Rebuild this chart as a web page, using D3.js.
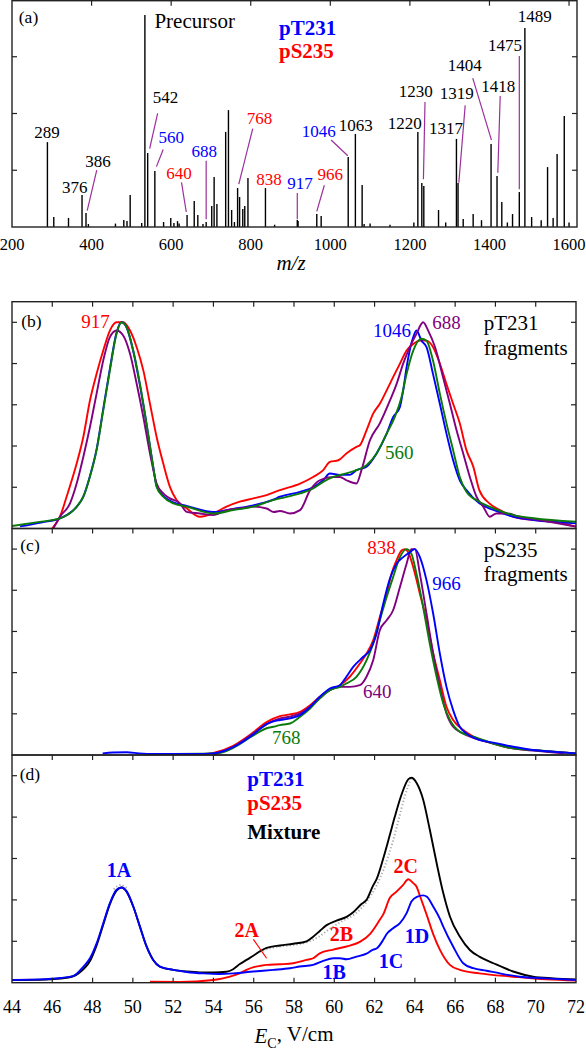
<!DOCTYPE html>
<html><head><meta charset="utf-8">
<script src="https://cdn.jsdelivr.net/npm/d3@7"></script>
<style>body{margin:0;background:#fff}svg{display:block}</style>
</head><body><svg id="c" width="586" height="1050"></svg>
<script>
// ---------- DATA ----------
// Panel (a): MS/MS spectrum
const specMz = [289,305,342,376,386,392,460,481,489,497,526,534,541,559,581,599,607,616,620,640,658,667,680,688,702,708,715,737,744,752,759,767,772,780,785,793,837,860,917,919,966,977,1045,1063,1080,1085,1100,1150,1210,1220,1230,1235,1272,1290,1317,1321,1334,1359,1380,1404,1419,1431,1445,1458,1475,1489,1506,1530,1546,1560,1570,1588,1600];
const specInt = [37.4,4.4,4.0,14.1,6.2,1.3,1.5,3.1,2.6,14.1,1.8,93.4,32.6,24.7,2.2,4.0,1.8,2.6,1.5,5.3,11.5,5.3,1.3,2.2,9.3,22.0,10.1,41.9,51.5,7.5,2.2,17.2,13.2,7.9,9.3,21.6,17.2,1.0,3.1,2.6,5.7,4.8,30.8,41.0,18.5,1.3,1.5,1.0,2.0,41.9,19.4,18.1,7.5,2.0,38.8,19.4,3.5,5.7,3.0,36.6,22.5,11.0,2.0,5.7,15.4,87.7,4.4,3.0,26.4,4.0,32.2,48.9,2.0];
const mzTicks = [200,400,600,800,1000,1200,1400,1600];
// peak labels: text, colour group, label anchor (mz, intensity), leader (mz1,int1,mz2,int2) or null
const peakLabels = [
  ["289","k",288,41.9,null],
  ["376","k",358,17.6,null],
  ["386","k",416,29.1,[413,25.1,389,7.2]],
  ["542","k",586,57.3,[566,50.1,546,34.5]],
  ["560","b",600,39.6,[580,34.1,563,26.6]],
  ["640","r",620,23.8,[626,19.7,638,6.6]],
  ["688","b",683,33.6,[688,29.2,688,3.4]],
  ["768","r",822,48.1,[805,43.3,770,18.9]],
  ["838","r",846,21.1,null],
  ["917","b",924,19.5,[917,15.0,917,3.4]],
  ["966","r",1000,23.2,[985,18.4,966,6.9]],
  ["1046","b",971,42.2,[1002,38.3,1044,31.4]],
  ["1063","k",1064,44.9,null],
  ["1220","k",1187,45.7,null],
  ["1230","k",1215,60.0,[1238,55.1,1234,21.0]],
  ["1317","k",1291,43.5,null],
  ["1319","k",1318,58.9,[1339,53.6,1323,19.5]],
  ["1404","k",1338,71.4,[1358,65.6,1405,38.3]],
  ["1418","k",1422,62.2,[1427,57.7,1421,23.9]],
  ["1475","k",1439,80.2,[1475,75.3,1475,16.6]],
  ["1489","k",1514,93.1,null]
];

// Panel (b): pT231 fragments [E_C, normalized intensity]
const bRed917 = [[46.0,0.0],[46.38,0.057],[46.71,0.154],[47.21,0.315],[47.54,0.444],[47.87,0.621],[48.2,0.75],[48.53,0.863],[48.86,0.96],[49.19,1.0],[49.52,1.0],[49.86,0.96],[50.19,0.879],[50.52,0.767],[50.85,0.605],[51.18,0.444],[51.51,0.315],[51.84,0.202],[52.17,0.138],[52.67,0.098],[53.33,0.057],[53.99,0.073],[54.65,0.106],[55.31,0.13],[55.98,0.146],[56.64,0.162],[57.3,0.186],[58.3,0.218],[58.95,0.25],[59.45,0.283],[59.78,0.323],[60.2,0.331],[60.6,0.364],[61.1,0.396],[61.27,0.404],[61.6,0.476],[61.93,0.557],[62.26,0.605],[62.6,0.67],[62.92,0.734],[63.26,0.8],[63.59,0.863],[63.92,0.895],[64.25,0.911],[64.58,0.911],[64.9,0.88],[65.24,0.8],[65.57,0.7],[65.9,0.605],[66.23,0.51],[66.56,0.38],[66.9,0.3],[67.2,0.186],[67.7,0.122],[68.2,0.09],[68.9,0.057],[69.9,0.041],[70.9,0.033],[72.0,0.009]];
const bBlue1046 = [[44.4,0.01],[45.5,0.03],[46.38,0.049],[47.0,0.085],[47.21,0.105],[47.54,0.155],[47.87,0.255],[48.2,0.385],[48.53,0.58],[48.86,0.775],[49.19,0.95],[49.44,1.0],[49.69,0.975],[50.02,0.86],[50.35,0.695],[50.68,0.505],[51.01,0.3],[51.18,0.205],[51.51,0.158],[52.01,0.127],[52.67,0.11],[53.99,0.08],[54.98,0.095],[55.98,0.112],[56.97,0.14],[57.3,0.154],[58.3,0.178],[58.95,0.2],[59.45,0.234],[59.78,0.267],[60.28,0.26],[60.77,0.26],[61.1,0.283],[61.6,0.3],[62.1,0.364],[62.6,0.46],[62.92,0.54],[63.26,0.59],[63.42,0.67],[63.59,0.783],[63.92,0.928],[64.08,0.96],[64.33,0.911],[64.58,0.88],[64.9,0.75],[65.24,0.605],[65.57,0.46],[65.9,0.331],[66.23,0.234],[66.56,0.186],[67.2,0.122],[67.9,0.09],[68.9,0.057],[69.9,0.041],[72.0,0.025]];
const bPurple688 = [[46.05,0.0],[46.38,0.057],[46.88,0.122],[47.21,0.218],[47.54,0.347],[47.87,0.492],[48.2,0.654],[48.53,0.815],[48.86,0.928],[49.19,0.96],[49.52,0.936],[49.86,0.847],[50.19,0.702],[50.52,0.541],[50.85,0.364],[51.18,0.218],[51.51,0.17],[51.84,0.146],[52.34,0.122],[52.67,0.081],[53.33,0.073],[53.99,0.065],[54.65,0.089],[55.31,0.097],[55.98,0.106],[56.64,0.097],[57.0,0.08],[57.3,0.085],[57.8,0.073],[58.3,0.089],[58.8,0.186],[59.28,0.234],[59.95,0.25],[60.28,0.25],[60.6,0.234],[61.1,0.218],[61.35,0.283],[61.77,0.428],[62.26,0.51],[62.76,0.62],[63.09,0.7],[63.42,0.8],[63.75,0.88],[64.08,0.944],[64.41,1.0],[64.66,0.96],[65.0,0.88],[65.4,0.734],[65.74,0.605],[66.07,0.476],[66.4,0.364],[66.73,0.25],[67.06,0.154],[67.4,0.105],[67.72,0.057],[68.05,0.073],[68.55,0.073],[69.2,0.057],[70.2,0.041],[72.0,0.009]];
const bGreen560 = [[44.0,0.012],[45.2,0.03],[46.38,0.049],[47.21,0.106],[47.54,0.154],[47.87,0.251],[48.2,0.38],[48.53,0.573],[48.86,0.767],[49.19,0.944],[49.44,1.0],[49.69,0.976],[50.02,0.863],[50.35,0.702],[50.68,0.509],[51.01,0.299],[51.18,0.202],[51.51,0.154],[52.01,0.122],[52.67,0.106],[53.99,0.073],[54.98,0.089],[55.98,0.106],[56.97,0.138],[57.3,0.146],[58.3,0.17],[58.95,0.194],[59.45,0.226],[59.95,0.25],[60.6,0.267],[61.1,0.283],[61.6,0.307],[62.1,0.364],[62.6,0.46],[63.0,0.54],[63.34,0.638],[63.59,0.75],[63.92,0.863],[64.33,0.92],[64.58,0.911],[64.9,0.815],[65.24,0.654],[65.57,0.51],[65.9,0.38],[66.23,0.25],[66.56,0.178],[67.2,0.13],[67.9,0.098],[68.9,0.065],[69.9,0.05],[72.0,0.033]];

// Panel (c): pS235 fragments
const cRed838 = [[53.5,0.003],[54.0,0.01],[54.98,0.045],[55.98,0.11],[56.64,0.16],[57.3,0.189],[57.8,0.197],[58.3,0.21],[58.8,0.242],[59.28,0.283],[59.78,0.315],[60.28,0.339],[60.77,0.38],[61.27,0.444],[61.6,0.493],[61.93,0.557],[62.26,0.67],[62.6,0.783],[62.84,0.88],[63.09,0.945],[63.34,0.993],[63.5,1.0],[63.67,0.985],[63.92,0.912],[64.25,0.783],[64.58,0.654],[64.91,0.493],[65.24,0.363],[65.57,0.234],[65.9,0.17],[66.4,0.121],[66.9,0.089],[67.9,0.056],[68.88,0.032],[69.87,0.024],[70.86,0.016],[72.0,0.008]];
const cBlue966 = [[48.5,0.008],[49.0,0.012],[49.7,0.013],[50.3,0.008],[51.0,0.005],[52.0,0.005],[53.0,0.005],[54.0,0.008],[54.98,0.038],[55.98,0.1],[56.64,0.15],[57.3,0.17],[57.8,0.178],[58.3,0.194],[58.8,0.234],[59.28,0.283],[59.78,0.323],[60.28,0.339],[60.6,0.38],[60.94,0.428],[61.44,0.477],[61.77,0.509],[62.1,0.59],[62.43,0.735],[62.76,0.856],[63.09,0.929],[63.42,0.961],[63.75,0.985],[64.0,1.0],[64.25,0.961],[64.58,0.848],[64.91,0.686],[65.24,0.493],[65.57,0.331],[65.9,0.218],[66.23,0.137],[66.56,0.105],[67.2,0.073],[67.9,0.06],[68.88,0.04],[69.87,0.024],[70.86,0.016],[72.0,0.008]];
const cPurple640 = [[54.0,0.0],[54.98,0.04],[55.98,0.105],[56.64,0.15],[57.3,0.178],[57.8,0.186],[58.3,0.202],[58.8,0.234],[59.28,0.275],[59.78,0.315],[60.28,0.331],[60.77,0.331],[61.27,0.339],[61.6,0.38],[61.93,0.46],[62.26,0.606],[62.6,0.654],[62.92,0.703],[63.26,0.816],[63.59,0.929],[63.83,1.0],[64.0,1.0],[64.25,0.88],[64.58,0.686],[64.91,0.493],[65.24,0.331],[65.57,0.202],[65.9,0.137],[66.4,0.105],[67.2,0.073],[67.9,0.056],[68.88,0.032],[70.5,0.016],[71.4,0.008]];
const cGreen768 = [[50.5,0.005],[52.0,0.005],[53.5,0.006],[54.3,0.01],[54.98,0.035],[55.98,0.095],[56.64,0.13],[56.97,0.137],[57.3,0.145],[57.8,0.153],[58.3,0.186],[58.8,0.226],[59.28,0.275],[59.78,0.315],[60.28,0.331],[60.6,0.347],[61.1,0.38],[61.6,0.46],[61.93,0.541],[62.26,0.654],[62.6,0.767],[62.92,0.864],[63.26,0.961],[63.59,1.0],[63.83,0.977],[64.08,0.88],[64.41,0.719],[64.74,0.541],[65.08,0.38],[65.41,0.25],[65.74,0.17],[66.23,0.113],[66.9,0.089],[67.9,0.056],[68.88,0.032],[69.87,0.024],[72.0,0.008]];

// Panel (d): pT231, pS235, mixture, fit
const dBluePT231 = [[44.0,0.013],[45.4,0.016],[46.4,0.023],[47.04,0.032],[47.54,0.077],[47.87,0.118],[48.2,0.19],[48.53,0.287],[48.86,0.384],[49.19,0.449],[49.44,0.46],[49.69,0.441],[50.02,0.368],[50.35,0.271],[50.68,0.175],[51.01,0.11],[51.34,0.078],[52.01,0.062],[52.67,0.052],[53.5,0.045],[54.3,0.042],[55.0,0.045],[55.98,0.054],[56.97,0.062],[57.8,0.07],[58.29,0.078],[58.95,0.086],[59.45,0.105],[59.95,0.118],[60.28,0.118],[60.61,0.113],[61.1,0.126],[61.6,0.14],[61.93,0.16],[62.1,0.165],[62.43,0.207],[62.6,0.235],[62.92,0.263],[63.26,0.288],[63.59,0.336],[63.83,0.392],[64.1,0.415],[64.41,0.422],[64.6,0.415],[64.91,0.368],[65.24,0.31],[65.41,0.271],[65.9,0.175],[66.4,0.094],[66.9,0.07],[67.56,0.058],[68.22,0.045],[69.2,0.029],[70.5,0.021],[72.0,0.013]];
const dRedPS235 = [[50.85,0.005],[52.34,0.004],[53.99,0.013],[54.82,0.029],[55.3,0.045],[55.64,0.062],[56.0,0.075],[56.31,0.081],[56.64,0.086],[57.3,0.089],[57.96,0.094],[58.62,0.11],[58.95,0.118],[59.28,0.142],[59.95,0.16],[60.61,0.175],[61.27,0.197],[61.77,0.235],[62.26,0.304],[62.43,0.33],[62.76,0.41],[63.09,0.44],[63.42,0.473],[63.67,0.5],[63.92,0.481],[64.08,0.465],[64.25,0.42],[64.58,0.33],[64.91,0.235],[65.24,0.16],[65.74,0.086],[66.23,0.062],[67.2,0.045],[68.88,0.029],[70.5,0.016],[72.0,0.01]];
const dBlackMix = [[44.0,0.013],[45.4,0.014],[46.4,0.02],[47.0,0.03],[47.3,0.045],[47.6,0.07],[47.9,0.11],[48.2,0.18],[48.53,0.28],[48.86,0.38],[49.19,0.445],[49.44,0.46],[49.69,0.44],[50.02,0.368],[50.35,0.271],[50.68,0.175],[51.01,0.11],[51.34,0.078],[52.01,0.062],[52.67,0.054],[53.33,0.05],[53.99,0.05],[54.65,0.053],[54.98,0.065],[55.31,0.09],[55.64,0.11],[55.98,0.13],[56.31,0.152],[56.64,0.168],[57.3,0.18],[57.96,0.188],[58.62,0.2],[58.95,0.222],[59.28,0.25],[59.62,0.278],[60.11,0.3],[60.61,0.318],[60.94,0.34],[61.35,0.38],[61.6,0.4],[61.93,0.47],[62.1,0.5],[62.43,0.6],[62.76,0.715],[63.0,0.8],[63.34,0.909],[63.67,0.982],[63.83,0.99],[64.08,0.966],[64.41,0.885],[64.74,0.74],[65.08,0.578],[65.41,0.433],[65.74,0.32],[66.23,0.223],[66.73,0.158],[67.2,0.126],[67.9,0.094],[68.88,0.054],[69.87,0.029],[70.86,0.021],[72.0,0.016]];
const dFitA = [[49.05,0.452],[49.4,0.472],[49.75,0.452]];
const dFitMain = [[56.3,0.15],[56.8,0.166],[57.3,0.175],[58.0,0.183],[58.6,0.194],[59.2,0.22],[59.8,0.262],[60.4,0.298],[61.0,0.33],[61.6,0.39],[62.1,0.47],[62.5,0.56],[62.9,0.68],[63.2,0.79],[63.5,0.9],[63.8,0.985]];
const ecTicks = [44,46,48,50,52,54,56,58,60,62,64,66,68,70,72];

// ---------- DRAWING ----------
const svg = d3.select("#c");
const FONT = "Liberation Serif";
const COL = {k:"#000", b:"#0000ff", r:"#ff0000", p:"#800080", g:"#0a7a0a"};
const LEAD = "#9b2f9b";
const frameCol = "#222";

function frame(x0,y0,x1,y1){
  svg.append("rect").attr("x",x0).attr("y",y0).attr("width",x1-x0).attr("height",y1-y0)
    .attr("fill","none").attr("stroke",frameCol).attr("stroke-width",1.4);
}
function tickMarks(xs, x, ys, y, top, bottom, left, right, len, drawBottom){
  const g = svg.append("g").attr("stroke",frameCol).attr("stroke-width",1.2);
  xs.forEach(v=>{
    const px = x(v);
    g.append("line").attr("x1",px).attr("x2",px).attr("y1",top).attr("y2",top+len);
    if(drawBottom) g.append("line").attr("x1",px).attr("x2",px).attr("y1",bottom).attr("y2",bottom-len);
  });
  ys.forEach(v=>{
    const py = y(v);
    g.append("line").attr("x1",left).attr("x2",left+len).attr("y1",py).attr("y2",py);
    g.append("line").attr("x1",right).attr("x2",right-len).attr("y1",py).attr("y2",py);
  });
}
function txt(x,y,s,opt={}){
  return svg.append("text").attr("x",x).attr("y",y).attr("dy","0.35em")
    .style("font-family",FONT)
    .attr("text-anchor",opt.anchor||"middle").attr("font-size",opt.size||17)
    .attr("font-weight",opt.bold?"bold":"normal").attr("font-style",opt.italic?"italic":"normal")
    .attr("fill",opt.fill||"#000").text(s);
}

// Panel (a)
const aL=12, aR=577, aT=0.7, aB=227;
const xA = d3.scaleLinear().domain([200,1620]).range([aL,aR]);
const yA = d3.scaleLinear().domain([0,100]).range([aB,0]);
svg.append("g").selectAll("line").data(specMz).join("line")
  .attr("x1",d=>xA(d)).attr("x2",d=>xA(d)).attr("y1",yA(0))
  .attr("y2",(d,i)=>yA(specInt[i])).attr("stroke","#000").attr("stroke-width",1.4);
frame(aL,aT,aR,aB);
tickMarks(mzTicks.slice(1), xA, [25,50,75], yA, aT, aB, aL, aR, 5, false);
mzTicks.forEach(v=>txt(xA(v), 244, v, {size:16.5}));
txt(291, 263, "m/z", {size:21, italic:true});
txt(aL+16.5, 16.7, "(a)", {size:17.5});
txt(xA(558), yA(90.9), "Precursor", {size:21, anchor:"start"});
txt(xA(871), yA(87.8), "pT231", {size:21, bold:true, fill:COL.b, anchor:"start"});
txt(xA(871), yA(77.5), "pS235", {size:21, bold:true, fill:COL.r, anchor:"start"});
peakLabels.forEach(([t,c,mz,it,ld])=>{
  if(ld) svg.append("line").attr("x1",xA(ld[0])).attr("y1",yA(ld[1])).attr("x2",xA(ld[2])).attr("y2",yA(ld[3]))
    .attr("stroke",LEAD).attr("stroke-width",1.2);
  txt(xA(mz), yA(it), t, {size:17, fill:COL[c]});
});

// Panels (b)(c)(d)
const pL=12, pR=576;
const xE = d3.scaleLinear().domain([44,72]).range([pL,pR]);
const panels = {b:[301.7,528.5], c:[528.5,755], d:[755,982.7]};
const yS = {};
Object.entries(panels).forEach(([k,[t,b]])=>{
  yS[k] = d3.scaleLinear().domain([0,1.1]).range([b,t]);
});
const line = y => d3.line().x(d=>xE(d[0])).y(d=>y(d[1])).curve(d3.curveMonotoneX);
function curve(k, data, col, w, dash){
  const p = svg.append("path").datum(data).attr("d",line(yS[k])).attr("fill","none")
    .attr("stroke",col).attr("stroke-width",w).attr("stroke-linejoin","round");
  if(dash) p.attr("stroke-dasharray",dash);
}

curve("b", bRed917, COL.r, 1.9);
curve("b", bBlue1046, COL.b, 1.9);
curve("b", bPurple688, COL.p, 1.9);
curve("b", bGreen560, COL.g, 1.9);

curve("c", cRed838, COL.r, 1.9);
curve("c", cPurple640, COL.p, 1.9);
curve("c", cGreen768, COL.g, 1.9);
curve("c", cBlue966, COL.b, 1.9);

curve("d", dFitA, "#aaa", 2, "1.2,2.2");
curve("d", dFitMain, "#aaa", 2, "1.2,2.2");
curve("d", dBlackMix, "#000", 1.9);
curve("d", dRedPS235, COL.r, 1.9);
curve("d", dBluePT231, COL.b, 1.9);

Object.entries(panels).forEach(([k,[t,b]])=>{
  frame(pL,t,pR,b);
  tickMarks(ecTicks.slice(1,-1), xE, [0.2,0.4,0.6,0.8,1.0], yS[k], t, b, pL, pR, 5, k==="d");
});
ecTicks.forEach(v=>txt(xE(v), 1006.7, v, {size:18}));
const ax = svg.append("text").attr("x",294).attr("y",1036).attr("dy","0.35em").attr("text-anchor","middle")
  .style("font-family",FONT).attr("font-size",21);
ax.append("tspan").attr("font-style","italic").text("E");
ax.append("tspan").attr("font-size",14).attr("dy","0.3em").text("C");
ax.append("tspan").attr("dy","-0.3em").text(", V/cm");

// labels (b)
const yb=yS.b, yc=yS.c, yd=yS.d;
txt(pL+19.5, 320.7, "(b)", {size:17.5});
txt(xE(48.15), yb(1.005), "917", {size:19, fill:COL.r});
txt(xE(62.87), yb(0.963), "1046", {size:19, fill:COL.b});
txt(xE(65.57), yb(1.0), "688", {size:19, fill:COL.p});
txt(xE(63.22), yb(0.368), "560", {size:19, fill:COL.g});
txt(xE(67.42), yb(1.0), "pT231", {size:21, anchor:"start"});
txt(xE(67.42), yb(0.879), "fragments", {size:21, anchor:"start"});
// labels (c)
txt(pL+18, 545, "(c)", {size:17.5});
txt(xE(62.35), yc(1.009), "838", {size:19, fill:COL.r});
txt(xE(65.57), yc(0.835), "966", {size:19, fill:COL.b});
txt(xE(62.13), yc(0.31), "640", {size:19, fill:COL.p});
txt(xE(57.61), yc(0.086), "768", {size:19, fill:COL.g});
txt(xE(67.42), yc(0.997), "pS235", {size:21, anchor:"start"});
txt(xE(67.42), yc(0.88), "fragments", {size:21, anchor:"start"});
// labels (d)
txt(pL+18, 774, "(d)", {size:17.5});
txt(xE(55.68), yd(0.985), "pT231", {size:21, bold:true, fill:COL.b, anchor:"start"});
txt(xE(55.68), yd(0.869), "pS235", {size:21, bold:true, fill:COL.r, anchor:"start"});
txt(xE(55.68), yd(0.731), "Mixture", {size:21, bold:true, anchor:"start"});
txt(xE(49.31), yd(0.546), "1A", {size:20, bold:true, fill:COL.b});
txt(xE(55.65), yd(0.255), "2A", {size:20, bold:true, fill:COL.r});
svg.append("line").attr("x1",xE(55.98)).attr("y1",yd(0.21)).attr("x2",xE(56.64)).attr("y2",yd(0.118)).attr("stroke",COL.r).attr("stroke-width",1.2);
txt(xE(60.36), yd(0.234), "2B", {size:20, bold:true, fill:COL.r});
txt(xE(59.99), yd(0.053), "1B", {size:20, bold:true, fill:COL.b});
txt(xE(62.81), yd(0.107), "1C", {size:20, bold:true, fill:COL.b});
txt(xE(64.11), yd(0.228), "1D", {size:20, bold:true, fill:COL.b});
txt(xE(63.55), yd(0.562), "2C", {size:20, bold:true, fill:COL.r});
</script></body></html>
